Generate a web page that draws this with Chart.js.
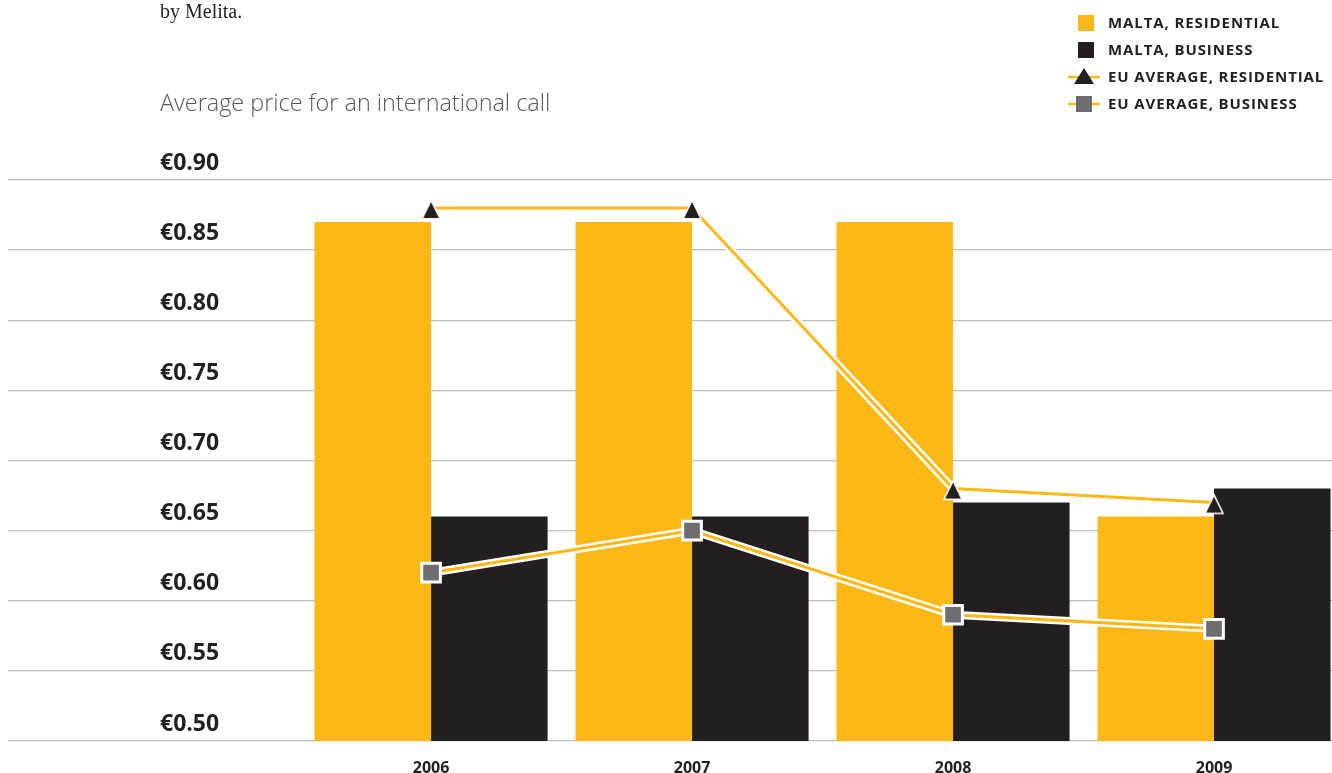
<!DOCTYPE html>
<html>
<head>
<meta charset="utf-8">
<script src="https://cdn.jsdelivr.net/npm/chart.js@4/dist/chart.umd.min.js"></script>
<style>
    html, body { margin: 0; padding: 0; background: #fff; overflow: hidden; }
    #wrap { position: relative; width: 1332px; height: 773px; }
    #chartBox { position: absolute; left: 0; top: 0; width: 1332px; height: 773px; }
    .intro { position: absolute; left: 160px; top: 0px; font: 20px "Liberation Serif", serif; color: #231f20; }
    .titel { position: absolute; left: 160px; top: 86px; font: 300 23.4px "Open Sans", sans-serif; color: #58595b; }
    .legenda { position: absolute; left: 1066px; top: 11px; font: bold 15px "Open Sans", sans-serif; letter-spacing: 0.9px; color: #231f20; }
    .legenda div { height: 27px; line-height: 22px; position: relative; padding-left: 42px; white-space: nowrap; }
    .legenda svg { position: absolute; left: 0; top: 2px; }
</style>
</head>
<body>
<div id="wrap">
    <div id="chartBox"><canvas id="prijsChart"></canvas></div>
    <div class="intro">by Melita.</div>
    <div class="titel">Average price for an international call</div>
    <div class="legenda">
        <div><svg width="36" height="20"><rect x="12" y="2" width="16" height="16" fill="#fbb817"/></svg>MALTA, RESIDENTIAL</div>
        <div><svg width="36" height="20"><rect x="12" y="2" width="16" height="16" fill="#231f20"/></svg>MALTA, BUSINESS</div>
        <div><svg width="36" height="20"><line x1="2" y1="10" x2="34" y2="10" stroke="#fbb817" stroke-width="2.5"/><polygon points="18,1 28,17 8,17" fill="#231f20"/></svg>EU AVERAGE, RESIDENTIAL</div>
        <div><svg width="36" height="20"><line x1="2" y1="10" x2="34" y2="10" stroke="#fbb817" stroke-width="2.5"/><rect x="10" y="2" width="16" height="16" fill="#6d6e71"/></svg>EU AVERAGE, BUSINESS</div>
    </div>
</div>
<script>
// data
var jaren = [2006, 2007, 2008, 2009];
var maltaResidential = [0.87, 0.87, 0.87, 0.66];
var maltaBusiness = [0.66, 0.66, 0.67, 0.68];
var euResidential = [0.88, 0.88, 0.68, 0.67];
var euBusiness = [0.62, 0.65, 0.59, 0.58];
var yTicks = [0.50, 0.55, 0.60, 0.65, 0.70, 0.75, 0.80, 0.85, 0.90];

var GEEL = '#fbb817';
var ZWART = '#231f20';
var GRIJS = '#6d6e71';

function punten(waarden) {
    return jaren.map(function(j, i) { return { x: j, y: waarden[i] }; });
}

// white halo under the yellow lines
function halo(waarden) {
    return {
        type: 'line',
        data: punten(waarden),
        borderColor: '#ffffff',
        borderWidth: 8,
        pointRadius: 0,
        tension: 0,
        order: 1
    };
}

// black triangle marker, sits a bit lower than the chart.js one
var driehoek = document.createElement('canvas');
driehoek.width = 30;
driehoek.height = 30;
(function() {
    var c = driehoek.getContext('2d');
    c.beginPath();
    c.moveTo(15, 9);
    c.lineTo(22.8, 25);
    c.lineTo(7.2, 25);
    c.closePath();
    c.lineJoin = 'miter';
    c.strokeStyle = '#ffffff';
    c.lineWidth = 3;
    c.stroke();
    c.fillStyle = ZWART;
    c.fill();
})();

var ctx = document.getElementById('prijsChart').getContext('2d');
var prijsChart = new Chart(ctx, {
    type: 'bar',
    data: {
        datasets: [
            {
                label: 'EU AVERAGE, RESIDENTIAL',
                type: 'line',
                data: punten(euResidential),
                borderColor: GEEL,
                borderWidth: 3,
                pointStyle: driehoek,
                pointRadius: 10,
                tension: 0,
                order: 0
            },
            {
                label: 'EU AVERAGE, BUSINESS',
                type: 'line',
                data: punten(euBusiness),
                borderColor: GEEL,
                borderWidth: 3,
                pointStyle: 'rect',
                pointRadius: 13.2,
                pointBackgroundColor: GRIJS,
                pointBorderColor: '#ffffff',
                pointBorderWidth: 3,
                tension: 0,
                order: 0
            },
            halo(euResidential),
            halo(euBusiness),
            {
                label: 'MALTA, RESIDENTIAL',
                data: punten(maltaResidential),
                backgroundColor: GEEL,
                categoryPercentage: 0.893,
                barPercentage: 1,
                order: 2
            },
            {
                label: 'MALTA, BUSINESS',
                data: punten(maltaBusiness),
                backgroundColor: ZWART,
                categoryPercentage: 0.893,
                barPercentage: 1,
                order: 2
            }
        ]
    },
    options: {
        responsive: true,
        maintainAspectRatio: false,
        animation: false,
        layout: { autoPadding: false, padding: { top: 180, left: 0, right: 0, bottom: 0 } },
        plugins: { legend: { display: false }, tooltip: { enabled: false } },
        scales: {
            x: {
                type: 'linear',
                offset: false,
                min: 2004.379,
                max: 2009.452,
                grid: { display: false, drawTicks: false, offset: false },
                border: { display: false },
                afterFit: function(s) { s.height = 32; s.paddingLeft = 0; s.paddingRight = 0; },
                afterBuildTicks: function(s) { s.ticks = jaren.map(function(j) { return { value: j }; }); },
                ticks: {
                    autoSkip: false,
                    maxRotation: 0,
                    padding: 18,
                    color: ZWART,
                    font: { family: 'Open Sans', weight: 'bold', size: 16 },
                    callback: function(v) { return String(v); }
                }
            },
            y: {
                min: 0.5,
                max: 0.9,
                afterFit: function(s) { s.width = 8; s.paddingTop = 0; s.paddingBottom = 0; },
                afterBuildTicks: function(s) { s.ticks = yTicks.map(function(v) { return { value: v }; }); },
                grid: { color: '#bcbec0', lineWidth: 1.3, drawTicks: false },
                border: { display: false },
                ticks: {
                    mirror: true,
                    padding: 152,
                    labelOffset: -17,
                    color: ZWART,
                    font: { family: 'Open Sans', weight: 'bold', size: 23 },
                    callback: function(v) { return '€' + v.toFixed(2); }
                }
            }
        }
    }
});
</script>
</body>
</html>
